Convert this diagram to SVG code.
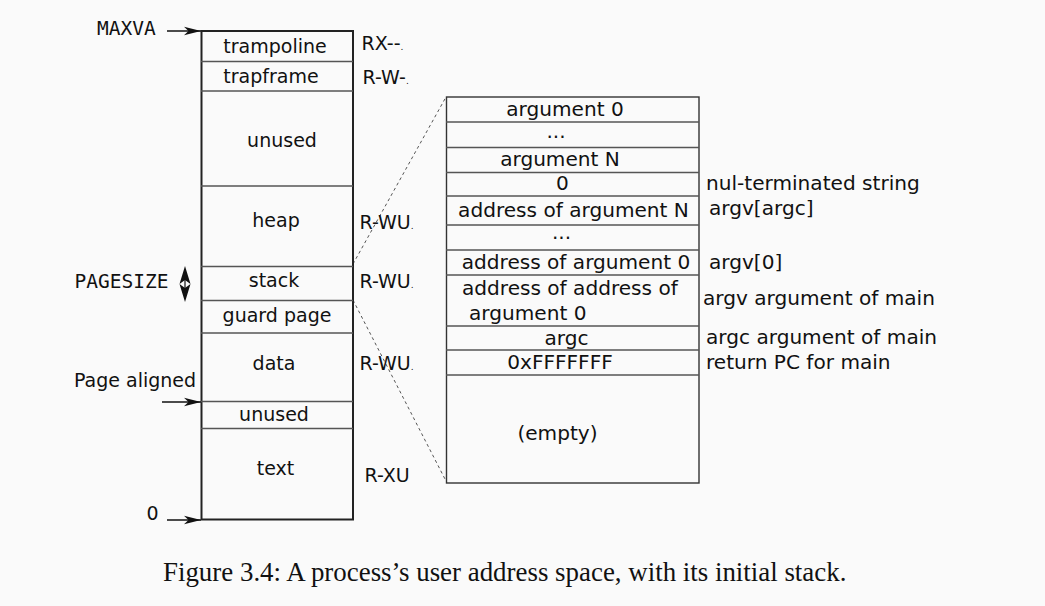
<svg xmlns="http://www.w3.org/2000/svg" width="1045" height="606" viewBox="0 0 1045 606">
<style>
.t{font-family:"DejaVu Sans","Verdana",sans-serif;font-size:19px;fill:#111}
.r{font-family:"DejaVu Sans","Verdana",sans-serif;font-size:20.1px;fill:#111}
.m{font-family:"DejaVu Sans Mono","Liberation Mono",monospace;font-size:19.5px;fill:#111}
.c{font-family:"Liberation Serif","Times New Roman",serif;font-size:26.9px;fill:#111}
.mid{text-anchor:middle}
.sep{stroke:#555;stroke-width:1.3;fill:none}
.box{stroke:#222;stroke-width:2;fill:none}
.box2{stroke:#333;stroke-width:1.4;fill:none}
.dash{stroke:#555;stroke-width:1;stroke-dasharray:3,3;fill:none}
.arr{stroke:#111;stroke-width:1.3;fill:none;marker-end:url(#ah)}
.dot{font-size:9px}
</style>
<defs>
<marker id="ah" viewBox="-18 -5 19 10" markerWidth="19" markerHeight="10" refX="0" refY="0" orient="auto" markerUnits="userSpaceOnUse">
<path d="M0,0 L-17,-4.2 L-12.5,0 L-17,4.2 Z" fill="#111"/>
</marker>
</defs>
<rect width="1045" height="606" fill="#fafafa"/>

<g id="connectors">
<path class="dash" d="M353,264 L446,97"/>
<path class="dash" d="M353,300 L446,481"/>
<path class="arr" d="M167,31 L201,31"/>
<path class="arr" d="M162,402 L201,402"/>
<path class="arr" d="M167,520 L201,520"/>
</g>

<g id="address-space">
<rect class="box" x="201.5" y="31" width="151.5" height="488.5"/>
<path class="sep" d="M201,61.5 H353 M201,91 H353 M201,186 H353 M201,266.5 H353 M201,300.5 H353 M201,333 H353 M201,401.5 H353 M201,428.5 H353"/>
<text class="t mid" x="275" y="53">trampoline</text>
<text class="t mid" x="271" y="83">trapframe</text>
<text class="t mid" x="282" y="147">unused</text>
<text class="t mid" x="276" y="227">heap</text>
<text class="t mid" x="274" y="287">stack</text>
<text class="t mid" x="277" y="322">guard page</text>
<text class="t mid" x="274" y="370">data</text>
<text class="t mid" x="274" y="421">unused</text>
<text class="t mid" x="275.5" y="475">text</text>
</g>

<g id="permissions">
<text class="t" x="361.5" y="49.5">RX--<tspan class="dot">.</tspan></text>
<text class="t" x="362.5" y="84">R-W-<tspan class="dot">.</tspan></text>
<text class="t" x="359.5" y="228.5">R-WU<tspan class="dot">.</tspan></text>
<text class="t" x="359.5" y="287.5">R-WU<tspan class="dot">.</tspan></text>
<text class="t" x="359.5" y="370">R-WU<tspan class="dot">.</tspan></text>
<text class="t" x="364.5" y="482">R-XU</text>
</g>

<g id="left-labels">
<text class="m" x="97" y="35">MAXVA</text>
<text class="m" x="74.5" y="288">PAGESIZE</text>
<text class="t" x="74" y="387">Page aligned</text>
<text class="t" x="146.5" y="519.5">0</text>
<g id="pagesize-arrow">
<path d="M185,266 L190.5,284 L185,280 L179.5,284 Z" fill="#111"/>
<path d="M185,302 L190.5,284 L185,288 L179.5,284 Z" fill="#111"/>
<path d="M185,279 V289" stroke="#111" stroke-width="1.2"/>
</g>
</g>

<g id="stack">
<rect class="box2" x="446.5" y="97" width="252.5" height="386"/>
<path class="sep" d="M446,122 H699 M446,147.5 H699 M446,172.5 H699 M446,196 H699 M446,225 H699 M446,250 H699 M446,275 H699 M446,326 H699 M446,350 H699 M446,375 H699"/>
<text class="r mid" x="565" y="116">argument 0</text>
<text class="r mid" x="556" y="138">...</text>
<text class="r mid" x="560" y="166">argument N</text>
<text class="r mid" x="562.5" y="190">0</text>
<text class="r mid" x="573.5" y="217">address of argument N</text>
<text class="r mid" x="561.5" y="239">...</text>
<text class="r mid" x="576" y="268.5">address of argument 0</text>
<text class="r" x="462" y="295">address of address of</text>
<text class="r" x="469" y="320">argument 0</text>
<text class="r mid" x="566.5" y="344.5">argc</text>
<text class="r mid" x="560" y="368.5">0xFFFFFFF</text>
<text class="r mid" x="557.5" y="440">(empty)</text>
</g>

<g id="stack-labels">
<text class="r" x="706" y="189.5">nul-terminated string</text>
<text class="r" x="709" y="215">argv[argc]</text>
<text class="r" x="709" y="268.5">argv[0]</text>
<text class="r" x="703" y="305">argv argument of main</text>
<text class="r" x="706" y="344">argc argument of main</text>
<text class="r" x="706" y="368.5">return PC for main</text>
</g>

<text id="caption" class="c" x="163" y="581">Figure 3.4: A process’s user address space, with its initial stack.</text>
</svg>
